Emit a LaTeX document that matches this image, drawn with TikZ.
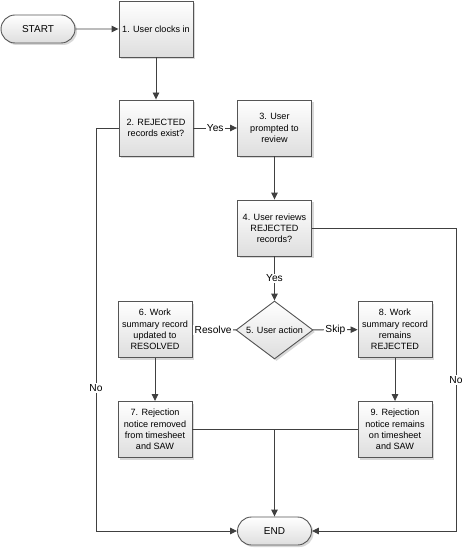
\documentclass[tikz,border=0pt]{standalone}
\usepackage{fontspec}
\setmainfont{Liberation Sans}
\usetikzlibrary{shapes.geometric,shapes.misc,shadows,arrows.meta}
\definecolor{linec}{HTML}{404040}
\definecolor{boxc}{HTML}{555555}
\begin{document}
\begin{tikzpicture}[x=1pt,y=-1pt,
  shade/.style={draw=boxc, line width=0.9pt, top color=white, bottom color=black!13,
    drop shadow={shadow xshift=2pt, shadow yshift=-2pt, fill=black!30, opacity=0.5}},
  box/.style={shade, rectangle, minimum width=74pt, minimum height=56pt, inner sep=0pt,
    align=center, font=\fontsize{9.1}{11.2}\selectfont},
  term/.style={shade, rounded rectangle, minimum width=74pt, minimum height=28pt,
    inner sep=0pt, font=\fontsize{10}{12}\selectfont},
  dec/.style={shade, diamond, minimum width=77pt, minimum height=58pt, inner sep=0pt,
    font=\fontsize{9.1}{11}\selectfont},
  conn/.style={draw=linec, line width=0.9pt},
  arr/.style={conn, -{Triangle[length=7pt,width=6.5pt]}},
  lab/.style={fill=white, inner sep=1.2pt, font=\fontsize{10.2}{12}\selectfont}]
\useasboundingbox (0,0) rectangle (468,548);

\node[term] (start) at (38,29) {START};
\node[box] (b1) at (156,29) {1. User clocks in};
\node[box] (b2) at (156,128) {2. REJECTED\\records exist?};
\node[box] (b3) at (274.5,128) {3. User\\prompted to\\review};
\node[box] (b4) at (274.5,228) {4. User reviews\\REJECTED\\records?};
\node[dec] (d5) at (274.5,330) {\makebox[0pt]{5. User action}};
\node[box] (b6) at (155,329.5) {6. Work\\summary record\\updated to\\RESOLVED};
\node[box] (b8) at (395,329.5) {8. Work\\summary record\\remains\\REJECTED};
\node[box] (b7) at (155,429.5) {7. Rejection\\notice removed\\from timesheet\\and SAW};
\node[box] (b9) at (395,429.5) {9. Rejection\\notice remains\\on timesheet\\and SAW};
\node[term] (end) at (274.5,531) {END};

\coordinate (join) at (274.5,429.5);
\coordinate (lft) at (96,531);
\coordinate (rgt) at (456,531);

\draw[arr] (start) -- (b1);
\draw[arr] (b1) -- (b2);
\draw[arr] (b2) -- node[lab] {Yes} (b3);
\draw[arr] (b3) -- (b4);
\draw[arr] (b4) -- node[lab] {Yes} (d5);
\draw[arr] (d5) -- node[lab, xshift=-1pt] {Resolve} (b6);
\draw[arr] (d5) -- node[lab] {Skip} (b8);
\draw[arr] (b6) -- (b7);
\draw[arr] (b8) -- (b9);
\draw[conn] (b7.east) -- (join);
\draw[conn] (b9.west) -- (join);
\draw[arr] (join) -- (end);
\draw[arr] (b2.west) -| (lft) -- (end.west);
\draw[arr] (b4.east) -| (rgt) -- (end.east);
\node[lab] (nol) at (96,388) {No};
\node[lab] (nor) at (456,380) {No};
\end{tikzpicture}
\end{document}
